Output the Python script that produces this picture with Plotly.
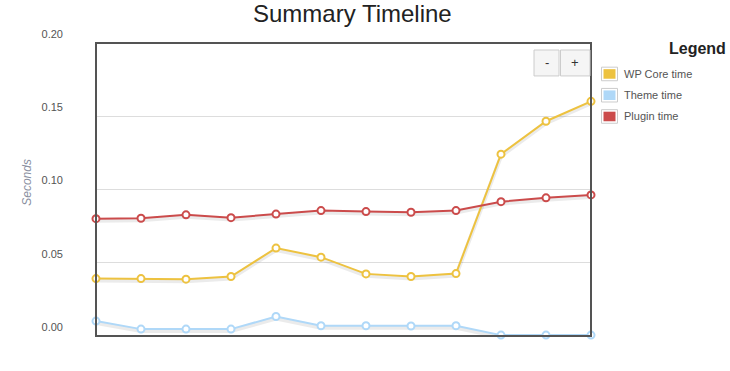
import plotly.graph_objects as go

# ---- data ----
runs = list(range(1, 13))
wp_core_time = [0.0392, 0.0392, 0.0388, 0.0406, 0.0600, 0.0538, 0.0424, 0.0406, 0.0426, 0.1241, 0.1466, 0.1602]
theme_time = [0.0102, 0.0047, 0.0047, 0.0047, 0.0133, 0.0070, 0.0070, 0.0068, 0.0070, 0.0006, 0.0006, 0.0006]
plugin_time = [0.0801, 0.0804, 0.0827, 0.0808, 0.0832, 0.0856, 0.0849, 0.0845, 0.0856, 0.0917, 0.0943, 0.0963]
series_names = ["WP Core time", "Theme time", "Plugin time"]
series_colors = ["#edc240", "#afd8f8", "#cb4b4b"]
y_ticks = [0.0, 0.05, 0.10, 0.15, 0.20]

W, H = 730, 371
L, R, T, B = 96, 591, 43, 336.5

def px(x):
    return (x - L) / (R - L)

def py(y):
    return (B - y) / (B - T)

fig = go.Figure()
series = [wp_core_time, theme_time, plugin_time]
shadow_off = 2 * 0.2 / (B - T)
for vals in series:
    fig.add_trace(go.Scatter(
        x=runs, y=[v - shadow_off for v in vals], mode="lines",
        line=dict(color="rgba(0,0,0,0.08)", width=4), hoverinfo="skip",
        showlegend=False, cliponaxis=False))
for name, vals, col in zip(series_names, series, series_colors):
    fig.add_trace(go.Scatter(
        x=runs, y=vals, mode="lines+markers", name=name,
        line=dict(color=col, width=2),
        marker=dict(size=7, color="white", line=dict(color=col, width=2)),
        showlegend=False, cliponaxis=False))

shapes = [dict(type="rect", xref="paper", yref="paper", x0=0, x1=1, y0=0, y1=1,
               line=dict(color="#545454", width=2), layer="above")]
annotations = []

# zoom buttons
for (x0, x1, lab) in [(534, 559, "-"), (560.5, 590, "+")]:
    shapes.append(dict(type="rect", xref="paper", yref="paper",
                       x0=px(x0), x1=px(x1), y0=py(76), y1=py(50),
                       fillcolor="#f5f5f5", line=dict(color="#cccccc", width=1)))
    annotations.append(dict(xref="paper", yref="paper", x=px((x0 + x1) / 2), y=py(63),
                            text=lab, showarrow=False, xanchor="center", yanchor="middle",
                            font=dict(family="Liberation Sans", size=13, color="#333")))

# legend
annotations.append(dict(xref="paper", yref="paper", x=px(728), y=py(49), text="<b>Legend</b>",
                        showarrow=False, xanchor="right", yanchor="middle",
                        font=dict(family="Liberation Sans", size=16, color="#222")))
for i, (name, col) in enumerate(zip(series_names, series_colors)):
    cy = 74 + i * 21.3
    shapes.append(dict(type="rect", xref="paper", yref="paper",
                       x0=px(601.5), x1=px(617.5), y0=py(cy + 6.8), y1=py(cy - 6.8),
                       fillcolor="white", line=dict(color="#cccccc", width=1)))
    shapes.append(dict(type="rect", xref="paper", yref="paper",
                       x0=px(603.5), x1=px(615.5), y0=py(cy + 4.8), y1=py(cy - 4.8),
                       fillcolor=col, line=dict(width=0)))
    annotations.append(dict(xref="paper", yref="paper", x=px(622), y=py(cy), text=name,
                            showarrow=False, xanchor="left", yanchor="middle",
                            font=dict(family="Liberation Sans", size=11, color="#545454")))

# title
annotations.append(dict(xref="paper", yref="paper", x=px(352), y=py(13), text="Summary Timeline",
                        showarrow=False, xanchor="center", yanchor="middle",
                        font=dict(family="Liberation Sans", size=24, color="#222")))
# y-axis title
annotations.append(dict(xref="paper", yref="paper", x=px(27), y=py(183), text="<i>Seconds</i>",
                        showarrow=False, xanchor="center", yanchor="middle", textangle=-90,
                        font=dict(family="Liberation Sans", size=12, color="#8a8fa0")))

fig.update_layout(
    width=W, height=H,
    margin=dict(l=L, r=W - R, t=T, b=H - B, pad=0),
    paper_bgcolor="white", plot_bgcolor="white",
    showlegend=False,
    shapes=shapes, annotations=annotations,
    xaxis=dict(range=[runs[0], runs[-1]], showgrid=False, zeroline=False,
               showticklabels=False, ticks="", fixedrange=True),
    yaxis=dict(range=[y_ticks[0], y_ticks[-1]], tickvals=y_ticks, tickformat=".2f",
               showgrid=True, gridcolor="#dddddd", gridwidth=1, zeroline=False,
               ticks="", ticklabelstandoff=32, ticklabelshift=-9,
               tickfont=dict(family="Liberation Sans", size=11, color="#545454")),
)

fig.write_html("out.html", config={"displayModeBar": False},
               post_script="document.body.style.margin='0';")
